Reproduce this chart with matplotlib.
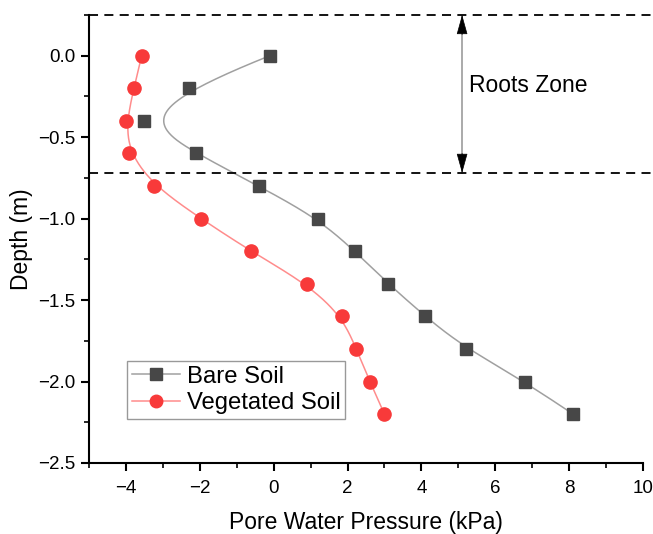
import numpy as np
import matplotlib
matplotlib.use("Agg")
import matplotlib.pyplot as plt

plt.rcParams['font.family'] = ['Liberation Sans', 'DejaVu Sans']

depth = [0.0, -0.2, -0.4, -0.6, -0.8, -1.0, -1.2, -1.4, -1.6, -1.8, -2.0, -2.2]
bare = [-0.1, -2.3, -3.5, -2.1, -0.4, 1.2, 2.2, 3.1, 4.1, 5.2, 6.8, 8.1]
veg = [-3.57, -3.78, -4.0, -3.9, -3.23, -1.97, -0.62, 0.9, 1.85, 2.24, 2.6, 3.0]
root_top, root_bottom = 0.25, -0.72


def bspline(px, py, k=3, n=400):
    P = np.column_stack([px, py]).astype(float)
    m = len(P)
    knots = np.concatenate([np.zeros(k), np.linspace(0, 1, m - k + 1), np.ones(k)])
    t = np.linspace(0, 1 - 1e-9, n)

    def N(i, p, t):
        if p == 0:
            return np.where((knots[i] <= t) & (t < knots[i + 1]), 1.0, 0.0)
        d1 = knots[i + p] - knots[i]
        d2 = knots[i + p + 1] - knots[i + 1]
        out = np.zeros_like(t)
        if d1 > 0:
            out += (t - knots[i]) / d1 * N(i, p - 1, t)
        if d2 > 0:
            out += (knots[i + p + 1] - t) / d2 * N(i + 1, p - 1, t)
        return out

    B = np.array([N(i, k, t) for i in range(m)])
    C = B.T @ P
    C[-1] = P[-1]
    return C[:, 0], C[:, 1]


fig = plt.figure(figsize=(6.53, 5.34), dpi=100)
ax = fig.add_axes([0.136, 0.133, 0.849, 0.839])

bx, by = bspline(bare, depth)
vx, vy = bspline(veg, depth)
ax.plot(bx, by, color='#a0a0a0', lw=1.1, zorder=2)
ax.plot(vx, vy, color='#ff8c8c', lw=1.1, zorder=2)
ax.plot(bare, depth, 's', color='#474747', ms=8.5, zorder=3)
ax.plot(veg, depth, 'o', color='#f83a3a', ms=9.5, zorder=3)

# legend proxies
hb, = ax.plot([], [], '-s', color='#a0a0a0', mfc='#474747', mec='#474747', ms=8, lw=1.1)
hv, = ax.plot([], [], '-o', color='#ff8c8c', mfc='#f83a3a', mec='#f83a3a', ms=9, lw=1.1)
leg = ax.legend([hb, hv], ['Bare Soil', 'Vegetated Soil'], loc='lower left',
                bbox_to_anchor=(0.069, 0.098), fontsize=17.2, numpoints=1,
                fancybox=False, edgecolor='#999999', framealpha=1,
                handlelength=2.0, borderpad=0.2, labelspacing=0.2,
                handletextpad=0.3, borderaxespad=0)
leg.get_frame().set_linewidth(1.0)

for yv in (root_top, root_bottom):
    ax.plot([-5, 10.5], [yv, yv], ls=(0, (5, 3.5)), color='black', lw=1.3,
            clip_on=False, zorder=4)

ax.plot([5.1, 5.1], [root_top, root_bottom], color='#aaaaaa', lw=1.4, zorder=3)
head = '-|>,head_length=0.9,head_width=0.25'
ax.annotate('', xy=(5.1, root_top), xytext=(5.1, root_top - 0.12),
            arrowprops=dict(arrowstyle=head, color='black', lw=0.5,
                            mutation_scale=14, shrinkA=0, shrinkB=0), zorder=5)
ax.annotate('', xy=(5.1, root_bottom), xytext=(5.1, root_bottom + 0.12),
            arrowprops=dict(arrowstyle=head, color='black', lw=0.5,
                            mutation_scale=14, shrinkA=0, shrinkB=0), zorder=5)
ax.text(5.3, -0.18, 'Roots Zone', fontsize=16.5, va='center', ha='left')

ax.set_xlim(-5, 10)
ax.set_ylim(-2.5, 0.25)
ax.set_xticks([-4, -2, 0, 2, 4, 6, 8, 10])
ax.set_xticks(np.arange(-5, 10.01, 1), minor=True)
ax.set_yticks([-2.5, -2.0, -1.5, -1.0, -0.5, 0.0])
ax.set_yticks(np.arange(-2.5, 0.26, 0.25), minor=True)
ax.set_yticklabels(['\u22122.5', '\u22122.0', '\u22121.5', '\u22121.0', '\u22120.5', '0.0'])
ax.set_xticklabels(['\u22124', '\u22122', '0', '2', '4', '6', '8', '10'])

for s in ('top', 'right'):
    ax.spines[s].set_visible(False)
for s in ('left', 'bottom'):
    ax.spines[s].set_linewidth(1.5)
ax.tick_params(which='major', direction='out', length=6, width=1.5, labelsize=13.5)
ax.tick_params(axis='x', which='major', pad=6)
ax.tick_params(which='minor', direction='out', length=3.5, width=1.2)
ax.set_xlabel('Pore Water Pressure (kPa)', fontsize=16.5, labelpad=10)
ax.set_ylabel('Depth (m)', fontsize=16.5, labelpad=4)

fig.savefig('out.png', dpi=100)
